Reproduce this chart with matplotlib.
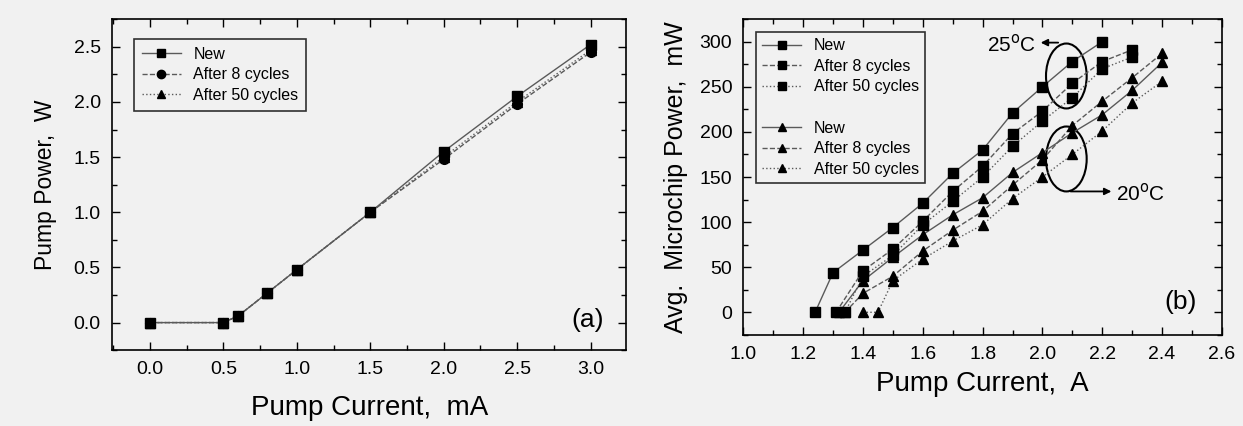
import matplotlib
matplotlib.use('Agg')
import matplotlib.pyplot as plt
from matplotlib.lines import Line2D
from matplotlib.patches import Ellipse
from matplotlib.ticker import MultipleLocator, FormatStrFormatter

plt.rcParams['font.family'] = ['Liberation Sans', 'DejaVu Sans']

# ---- panel (a): pump power vs pump current ----
a_cur = [0.0, 0.5, 0.6, 0.8, 1.0, 1.5, 2.0, 2.5, 3.0]
a_new = [0.0, 0.0, 0.06, 0.27, 0.48, 1.00, 1.55, 2.05, 2.52]
a_8cyc = [0.0, 0.0, 0.06, 0.27, 0.48, 1.00, 1.48, 1.98, 2.45]
a_50cyc = [0.0, 0.0, 0.06, 0.27, 0.48, 1.00, 1.50, 2.00, 2.47]

# ---- panel (b): microchip power, 25 C (squares) ----
sq_new_x = [1.24, 1.30, 1.40, 1.50, 1.60, 1.70, 1.80, 1.90, 2.00, 2.10, 2.20]
sq_new_y = [0, 44, 69, 94, 121, 154, 180, 221, 250, 278, 300]
sq_8_x = [1.31, 1.40, 1.50, 1.60, 1.70, 1.80, 1.90, 2.00, 2.10, 2.20, 2.30]
sq_8_y = [0, 46, 70, 101, 134, 162, 198, 223, 254, 278, 291]
sq_50_x = [1.34, 1.40, 1.50, 1.60, 1.70, 1.80, 1.90, 2.00, 2.10, 2.20, 2.30]
sq_50_y = [0, 40, 63, 97, 123, 150, 184, 212, 238, 270, 283]

# ---- panel (b): microchip power, 20 C (triangles) ----
tr_new_x = [1.32, 1.40, 1.50, 1.60, 1.70, 1.80, 1.90, 2.00, 2.10, 2.20, 2.30, 2.40]
tr_new_y = [0, 35, 61, 86, 108, 127, 155, 177, 199, 219, 246, 277]
tr_8_x = [1.34, 1.40, 1.50, 1.60, 1.70, 1.80, 1.90, 2.00, 2.10, 2.20, 2.30, 2.40]
tr_8_y = [0, 21, 40, 68, 91, 112, 141, 169, 207, 234, 260, 287]
tr_50_x = [1.40, 1.45, 1.50, 1.60, 1.70, 1.80, 1.90, 2.00, 2.10, 2.20, 2.30, 2.40]
tr_50_y = [0, 0, 35, 59, 79, 97, 126, 150, 175, 201, 232, 256]

line_col = '#5a5a5a'
bg = '#f1f1f1'
narrow = ['Liberation Sans Narrow', 'Liberation Sans', 'DejaVu Sans']


def style_axes(ax):
    ax.set_facecolor(bg)
    ax.tick_params(which='both', direction='in', top=True, right=True,
                   labelsize=14, width=1.0, pad=8)
    ax.tick_params(which='major', length=6)
    ax.tick_params(which='minor', length=3.5)
    for s in ax.spines.values():
        s.set_linewidth(1.2)
    for lab in ax.get_xticklabels():
        lab.set_family(narrow)


fig = plt.figure(figsize=(12.43, 4.26), dpi=100, facecolor=bg)

# ---- (a) ----
ax_a = fig.add_axes([0.090, 0.178, 0.414, 0.777])
ax_a.plot(a_cur, a_50cyc, ':', color=line_col, lw=1.0, marker='^', ms=7, mfc='k', mec='k')
ax_a.plot(a_cur, a_8cyc, '--', color=line_col, lw=1.0, marker='o', ms=7, mfc='k', mec='k')
ax_a.plot(a_cur, a_new, '-', color=line_col, lw=1.0, marker='s', ms=7, mfc='k', mec='k')
ax_a.set_xlim(-0.26, 3.245)
ax_a.set_ylim(-0.25, 2.75)
ax_a.xaxis.set_major_locator(MultipleLocator(0.5))
ax_a.xaxis.set_minor_locator(MultipleLocator(0.25))
ax_a.yaxis.set_major_locator(MultipleLocator(0.5))
ax_a.yaxis.set_minor_locator(MultipleLocator(0.25))
ax_a.xaxis.set_major_formatter(FormatStrFormatter('%.1f'))
ax_a.yaxis.set_major_formatter(FormatStrFormatter('%.1f'))
style_axes(ax_a)
ax_a.set_xlabel('Pump Current,  mA', fontsize=20, family=narrow, labelpad=12)
ax_a.set_ylabel('Pump Power,  W', fontsize=16.5, labelpad=12)
ax_a.text(0.925, 0.09, '(a)', transform=ax_a.transAxes, fontsize=19,
          ha='center', va='center')

leg_a = [
    Line2D([], [], ls='-', color=line_col, lw=1.0, marker='s', ms=6, mfc='k', mec='k'),
    Line2D([], [], ls='--', color=line_col, lw=1.0, marker='o', ms=6, mfc='k', mec='k'),
    Line2D([], [], ls=':', color=line_col, lw=1.0, marker='^', ms=6, mfc='k', mec='k'),
]
la = ax_a.legend(leg_a, ['New', 'After 8 cycles', 'After 50 cycles'], loc='upper left',
                 fontsize=11.5, frameon=True, fancybox=False, edgecolor='k',
                 handlelength=2.4, borderpad=0.5, labelspacing=0.35,
                 bbox_to_anchor=(0.028, 0.965))
la.get_frame().set_linewidth(1.2)
la.get_frame().set_facecolor(bg)

# ---- (b) ----
ax_b = fig.add_axes([0.598, 0.214, 0.385, 0.741])
ax_b.plot(tr_50_x, tr_50_y, ':', color=line_col, lw=1.0, marker='^', ms=7, mfc='k', mec='k')
ax_b.plot(tr_8_x, tr_8_y, '--', color=line_col, lw=1.0, marker='^', ms=7, mfc='k', mec='k')
ax_b.plot(tr_new_x, tr_new_y, '-', color=line_col, lw=1.0, marker='^', ms=7, mfc='k', mec='k')
ax_b.plot(sq_50_x, sq_50_y, ':', color=line_col, lw=1.0, marker='s', ms=6.5, mfc='k', mec='k')
ax_b.plot(sq_8_x, sq_8_y, '--', color=line_col, lw=1.0, marker='s', ms=6.5, mfc='k', mec='k')
ax_b.plot(sq_new_x, sq_new_y, '-', color=line_col, lw=1.0, marker='s', ms=6.5, mfc='k', mec='k')
ax_b.set_xlim(1.0, 2.6)
ax_b.set_ylim(-25, 325)
ax_b.xaxis.set_major_locator(MultipleLocator(0.2))
ax_b.xaxis.set_minor_locator(MultipleLocator(0.1))
ax_b.yaxis.set_major_locator(MultipleLocator(50))
ax_b.yaxis.set_minor_locator(MultipleLocator(25))
ax_b.xaxis.set_major_formatter(FormatStrFormatter('%.1f'))
style_axes(ax_b)
ax_b.set_xlabel('Pump Current,  A', fontsize=20, family=narrow, labelpad=6)
ax_b.set_ylabel('Avg.  Microchip Power,  mW', fontsize=18, labelpad=8)
ax_b.text(0.914, 0.105, '(b)', transform=ax_b.transAxes, fontsize=19,
          ha='center', va='center')

# temperature groups
ax_b.add_patch(Ellipse((2.08, 262), 0.136, 72, fill=False, ec='k', lw=1.5))
ax_b.add_patch(Ellipse((2.08, 170), 0.136, 72, fill=False, ec='k', lw=1.5))
ax_b.annotate('', xy=(1.985, 299), xytext=(2.062, 299),
              arrowprops=dict(arrowstyle='-|>', color='k', lw=1.3, mutation_scale=10))
ax_b.text(1.98, 297, '25$^{\\mathrm{o}}$C', fontsize=15, ha='right', va='center')
ax_b.annotate('', xy=(2.24, 134), xytext=(2.085, 134),
              arrowprops=dict(arrowstyle='-|>', color='k', lw=1.3, mutation_scale=10))
ax_b.text(2.245, 132, '20$^{\\mathrm{o}}$C', fontsize=15, ha='left', va='center')

sq_h = dict(color=line_col, lw=1.0, mfc='k', mec='k', ms=6)
leg_b = [
    Line2D([], [], ls='-', marker='s', **sq_h),
    Line2D([], [], ls='--', marker='s', **sq_h),
    Line2D([], [], ls=':', marker='s', **sq_h),
    Line2D([], [], ls='none'),
    Line2D([], [], ls='-', marker='^', **sq_h),
    Line2D([], [], ls='--', marker='^', **sq_h),
    Line2D([], [], ls=':', marker='^', **sq_h),
]
lb = ax_b.legend(leg_b, ['New', 'After 8 cycles', 'After 50 cycles', ' ',
                         'New', 'After 8 cycles', 'After 50 cycles'],
                 loc='upper left', fontsize=11.5, frameon=True, fancybox=False,
                 edgecolor='k', handlelength=2.4, borderpad=0.4, labelspacing=0.35,
                 bbox_to_anchor=(0.01, 0.985))
lb.get_frame().set_linewidth(1.2)
lb.get_frame().set_facecolor(bg)

fig.savefig('out.png', dpi=100, facecolor=bg)
